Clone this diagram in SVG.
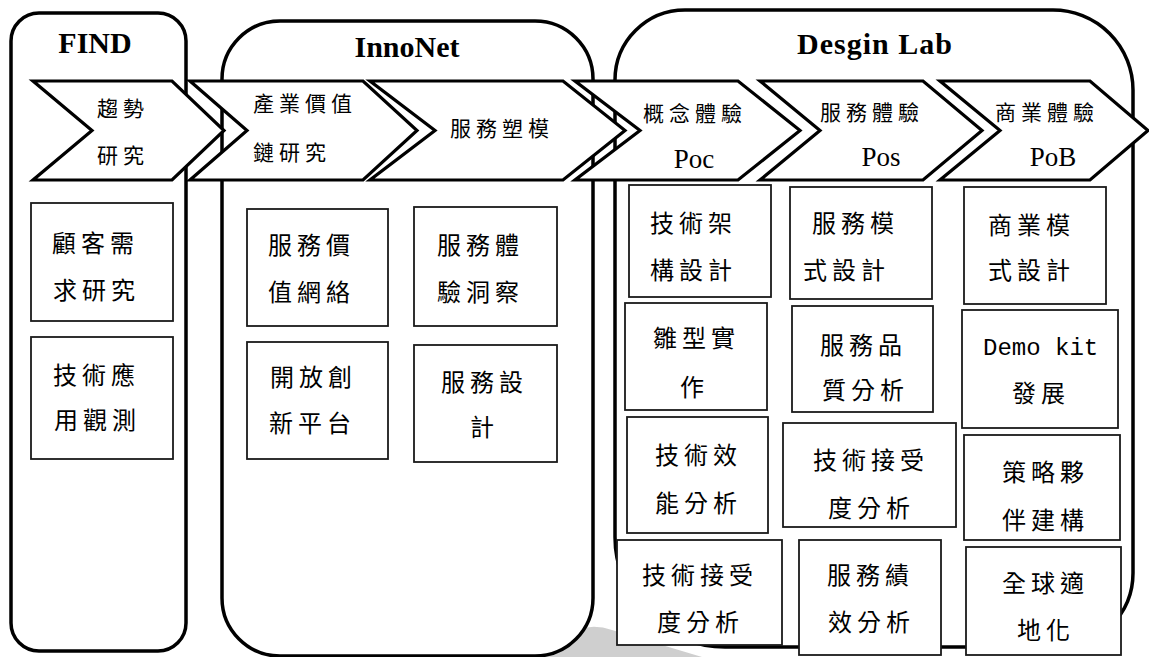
<svg xmlns="http://www.w3.org/2000/svg" width="1149" height="657" viewBox="0 0 1149 657">
  <style>
    .frame { fill: #ffffff; stroke: #000000; stroke-width: 3.5; }
    .chev { fill: #ffffff; stroke: #000000; stroke-width: 3.2; stroke-linejoin: miter; }
    .box { fill: #ffffff; stroke: #1a1a1a; stroke-width: 1.8; }
    .title { font-family: "Liberation Serif", "Times New Roman", serif; font-weight: bold; font-size: 30px; fill: #000; text-anchor: middle; }
    .cj { font-family: "Noto Sans CJK TC", "Noto Sans CJK SC", sans-serif; font-size: 24px; letter-spacing: 5px; fill: #000; }
    .cjs { font-family: "Noto Sans CJK TC", "Noto Sans CJK SC", sans-serif; font-size: 21px; letter-spacing: 5px; fill: #000; }
    .lat { font-family: "Liberation Serif", "Times New Roman", serif; font-size: 27px; fill: #000; text-anchor: middle; }
    .mono { font-family: "Liberation Mono", "Courier New", monospace; font-size: 24px; fill: #000; }
  </style>

  <!-- soft grey swoosh at the bottom -->
  <path d="M540,657 L556,641 Q584,620 612,630 L702,657 Z" fill="#cfcfcf"/>

  <!-- stage frames -->
  <g id="find">
    <rect class="frame" x="11" y="13" width="175" height="638" rx="28" ry="28"/>
    <text class="title" x="95" y="53">FIND</text>
  </g>
  <g id="innonet">
    <rect class="frame" x="222" y="21" width="371" height="635" rx="58" ry="58"/>
    <text class="title" x="407" y="57">InnoNet</text>
  </g>
  <g id="designlab">
    <path class="frame" d="M615,80 A70,70 0 0 1 685,10 L1053,10 A80,80 0 0 1 1133,90 L1133,573 A74,74 0 0 1 1059,647 L725,647 A110,110 0 0 1 615,537 Z"/>
    <text class="title" x="875" y="54" letter-spacing="1">Desgin Lab</text>
  </g>

  <!-- process chevrons -->
  <g id="connectors">
    <g id="chev-trend">
      <polygon class="chev" points="33,81 172,81 224,130.5 172,180 33,180 92,130.5"/>
      <text class="cjs" x="97" y="115.5">趨勢</text>
      <text class="cjs" x="97" y="162.5">研究</text>
    </g>
    <g id="chev-chain">
      <polygon class="chev" points="190,81 363,81 417,130.5 363,180 190,180 247,130.5"/>
      <text class="cjs" x="253" y="110.5">產業價值</text>
      <text class="cjs" x="253" y="159.5">鏈研究</text>
    </g>
    <g id="chev-model">
      <polygon class="chev" points="370,81 563,81 625,130.5 563,180 370,180 435,130.5"/>
      <text class="cjs" x="450" y="135.5">服務塑模</text>
    </g>
    <g id="chev-poc">
      <polygon class="chev" points="575,81 738,81 800,130.5 738,180 575,180 640,130.5"/>
      <text class="cjs" x="643" y="120.5">概念體驗</text>
      <text class="lat" x="694" y="168">Poc</text>
    </g>
    <g id="chev-pos">
      <polygon class="chev" points="760,81 923,81 982,130.5 923,180 760,180 820,130.5"/>
      <text class="cjs" x="820" y="119.5">服務體驗</text>
      <text class="lat" x="881" y="166">Pos</text>
    </g>
    <g id="chev-pob">
      <polygon class="chev" points="940,81 1090,81 1148,130.5 1090,180 940,180 1000,130.5"/>
      <text class="cjs" x="995" y="119.5">商業體驗</text>
      <text class="lat" x="1053" y="166">PoB</text>
    </g>
  </g>

  <!-- FIND tasks -->
  <g id="n-customer">
    <rect class="box" x="31" y="203" width="142" height="118"/>
    <text class="cj" x="52" y="251.5">顧客需</text>
    <text class="cj" x="53" y="298.5">求研究</text>
  </g>
  <g id="n-techwatch">
    <rect class="box" x="31" y="337" width="142" height="122"/>
    <text class="cj" x="53" y="383.5">技術應</text>
    <text class="cj" x="54" y="428.5">用觀測</text>
  </g>

  <!-- InnoNet tasks -->
  <g id="n-valuenet">
    <rect class="box" x="247" y="209" width="141" height="117"/>
    <text class="cj" x="268" y="253.5">服務價</text>
    <text class="cj" x="268" y="300.5">值網絡</text>
  </g>
  <g id="n-openplatform">
    <rect class="box" x="247" y="342" width="141" height="117"/>
    <text class="cj" x="270" y="385.5">開放創</text>
    <text class="cj" x="269" y="431.5">新平台</text>
  </g>
  <g id="n-insight">
    <rect class="box" x="414" y="207" width="143" height="119"/>
    <text class="cj" x="437" y="253.5">服務體</text>
    <text class="cj" x="437" y="300.5">驗洞察</text>
  </g>
  <g id="n-servicedesign">
    <rect class="box" x="414" y="345" width="143" height="117"/>
    <text class="cj" x="441" y="390.5">服務設</text>
    <text class="cj" x="470" y="435.5">計</text>
  </g>

  <!-- Design Lab: PoC column -->
  <g id="n-architecture">
    <rect class="box" x="629" y="185" width="142" height="112"/>
    <text class="cj" x="650" y="231.5">技術架</text>
    <text class="cj" x="650" y="278.5">構設計</text>
  </g>
  <g id="n-prototype">
    <rect class="box" x="625" y="303" width="142" height="107"/>
    <text class="cj" x="653" y="346.5">雛型實</text>
    <text class="cj" x="680" y="395.5">作</text>
  </g>
  <g id="n-performance">
    <rect class="box" x="627" y="417" width="141" height="116"/>
    <text class="cj" x="655" y="463.5">技術效</text>
    <text class="cj" x="655" y="511.5">能分析</text>
  </g>
  <g id="n-acceptance-a">
    <rect class="box" x="617" y="540" width="165" height="105"/>
    <text class="cj" x="642" y="583.5">技術接受</text>
    <text class="cj" x="657" y="630.5">度分析</text>
  </g>

  <!-- Design Lab: PoS column -->
  <g id="n-servicemodel">
    <rect class="box" x="790" y="187" width="142" height="112"/>
    <text class="cj" x="812" y="231.5">服務模</text>
    <text class="cj" x="803" y="278.5">式設計</text>
  </g>
  <g id="n-quality">
    <rect class="box" x="792" y="306" width="141" height="106"/>
    <text class="cj" x="820" y="353.5">服務品</text>
    <text class="cj" x="822" y="398.5">質分析</text>
  </g>
  <g id="n-acceptance-b">
    <rect class="box" x="783" y="423" width="173" height="104"/>
    <text class="cj" x="813" y="468.5">技術接受</text>
    <text class="cj" x="828" y="516.5">度分析</text>
  </g>
  <g id="n-kpi">
    <rect class="box" x="799" y="540" width="142" height="115"/>
    <text class="cj" x="827" y="583.5">服務績</text>
    <text class="cj" x="828" y="630.5">效分析</text>
  </g>

  <!-- Design Lab: PoB column -->
  <g id="n-businessmodel">
    <rect class="box" x="964" y="187" width="142" height="117"/>
    <text class="cj" x="988" y="233.5">商業模</text>
    <text class="cj" x="988" y="278.5">式設計</text>
  </g>
  <g id="n-demokit">
    <rect class="box" x="962" y="310" width="156" height="118"/>
    <text class="mono" x="983" y="355">Demo kit</text>
    <text class="cj" x="1012" y="401.5">發展</text>
  </g>
  <g id="n-partners">
    <rect class="box" x="964" y="435" width="156" height="105"/>
    <text class="cj" x="1002" y="480.5">策略夥</text>
    <text class="cj" x="1002" y="528.5">伴建構</text>
  </g>
  <g id="n-localization">
    <rect class="box" x="966" y="547" width="155" height="108"/>
    <text class="cj" x="1002" y="591.5">全球適</text>
    <text class="cj" x="1017" y="638.5">地化</text>
  </g>
</svg>
